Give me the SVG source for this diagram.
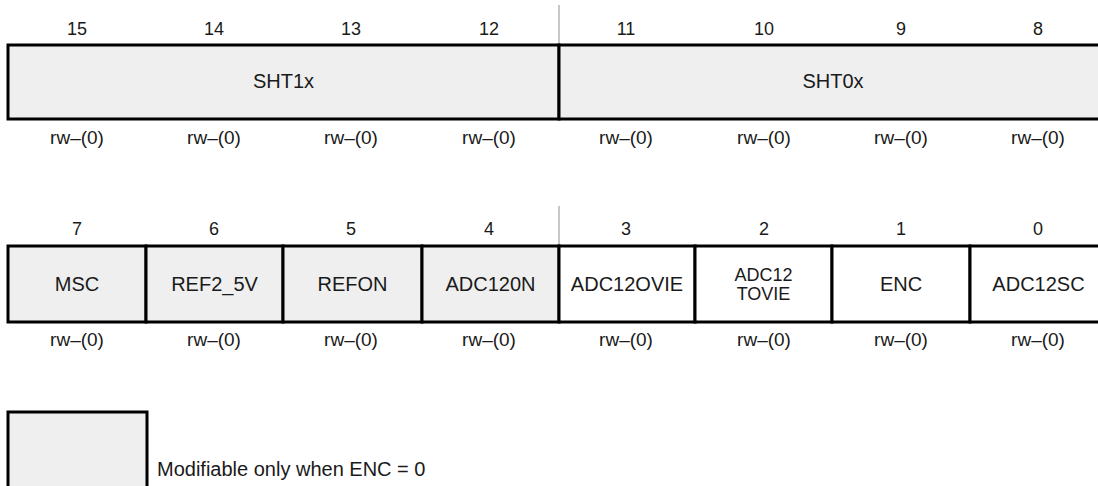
<svg xmlns="http://www.w3.org/2000/svg" width="1098" height="486" viewBox="0 0 1098 486">
<style>
.bg{fill:#ffffff}
.cell{stroke:#000;stroke-width:3;}
.g{fill:#efefef}
.w{fill:#ffffff}
.tick{stroke:#c8c8c8;stroke-width:2}
text{font-family:"Liberation Sans",Arial,sans-serif;fill:#1a1a1a;text-anchor:middle}
.num{font-size:18px}
.lbl{font-size:20px}
.lbl2{font-size:18px}
.rw{font-size:19px}
.leg{font-size:20px;text-anchor:start}
</style>
<rect class="bg" x="0" y="0" width="1098" height="486"/>
<g id="ticks">
<line class="tick" x1="559" y1="5" x2="559" y2="45"/>
<line class="tick" x1="559" y1="206" x2="559" y2="246"/>
</g>
<g id="bitnums-high">
<text class="num" x="77" y="35">15</text>
<text class="num" x="214" y="35">14</text>
<text class="num" x="351" y="35">13</text>
<text class="num" x="489" y="35">12</text>
<text class="num" x="626" y="35">11</text>
<text class="num" x="764" y="35">10</text>
<text class="num" x="901" y="35">9</text>
<text class="num" x="1038" y="35">8</text>
</g>
<g id="SHT1x">
<rect class="cell g" x="8" y="45" width="551" height="74"/>
<text class="lbl" x="283.5" y="88">SHT1x</text>
</g>
<g id="SHT0x">
<rect class="cell g" x="559" y="45" width="548" height="74"/>
<text class="lbl" x="833" y="88">SHT0x</text>
</g>
<g id="access-high">
<text class="rw" x="77" y="144">rw–(0)</text>
<text class="rw" x="214" y="144">rw–(0)</text>
<text class="rw" x="351" y="144">rw–(0)</text>
<text class="rw" x="489" y="144">rw–(0)</text>
<text class="rw" x="626" y="144">rw–(0)</text>
<text class="rw" x="764" y="144">rw–(0)</text>
<text class="rw" x="901" y="144">rw–(0)</text>
<text class="rw" x="1038" y="144">rw–(0)</text>
</g>
<g id="bitnums-low">
<text class="num" x="77" y="235">7</text>
<text class="num" x="214" y="235">6</text>
<text class="num" x="351" y="235">5</text>
<text class="num" x="489" y="235">4</text>
<text class="num" x="626" y="235">3</text>
<text class="num" x="764" y="235">2</text>
<text class="num" x="901" y="235">1</text>
<text class="num" x="1038" y="235">0</text>
</g>
<g id="MSC">
<rect class="cell g" x="8" y="246" width="138" height="76"/>
<text class="lbl" x="77" y="291">MSC</text>
</g>
<g id="REF2_5V">
<rect class="cell g" x="146" y="246" width="137" height="76"/>
<text class="lbl" x="214.5" y="291">REF2_5V</text>
</g>
<g id="REFON">
<rect class="cell g" x="283" y="246" width="139" height="76"/>
<text class="lbl" x="352.5" y="291">REFON</text>
</g>
<g id="ADC12ON">
<rect class="cell g" x="422" y="246" width="137" height="76"/>
<text class="lbl" x="490.5" y="291">ADC120N</text>
</g>
<g id="ADC12OVIE">
<rect class="cell w" x="559" y="246" width="136" height="76"/>
<text class="lbl" x="627" y="291">ADC12OVIE</text>
</g>
<g id="ADC12TOVIE">
<rect class="cell w" x="695" y="246" width="137" height="76"/>
<text class="lbl2" x="763.5" y="281">ADC12</text>
<text class="lbl2" x="763.5" y="300">TOVIE</text>
</g>
<g id="ENC">
<rect class="cell w" x="832" y="246" width="138" height="76"/>
<text class="lbl" x="901" y="291">ENC</text>
</g>
<g id="ADC12SC">
<rect class="cell w" x="970" y="246" width="137" height="76"/>
<text class="lbl" x="1038.5" y="291">ADC12SC</text>
</g>
<g id="access-low">
<text class="rw" x="77" y="346">rw–(0)</text>
<text class="rw" x="214" y="346">rw–(0)</text>
<text class="rw" x="351" y="346">rw–(0)</text>
<text class="rw" x="489" y="346">rw–(0)</text>
<text class="rw" x="626" y="346">rw–(0)</text>
<text class="rw" x="764" y="346">rw–(0)</text>
<text class="rw" x="901" y="346">rw–(0)</text>
<text class="rw" x="1038" y="346">rw–(0)</text>
</g>
<g id="connectors"></g>
<g id="legend">
<rect class="cell g" x="8" y="412" width="139" height="80"/>
<text class="leg" x="157" y="476">Modifiable only when ENC = 0</text>
</g>
</svg>
